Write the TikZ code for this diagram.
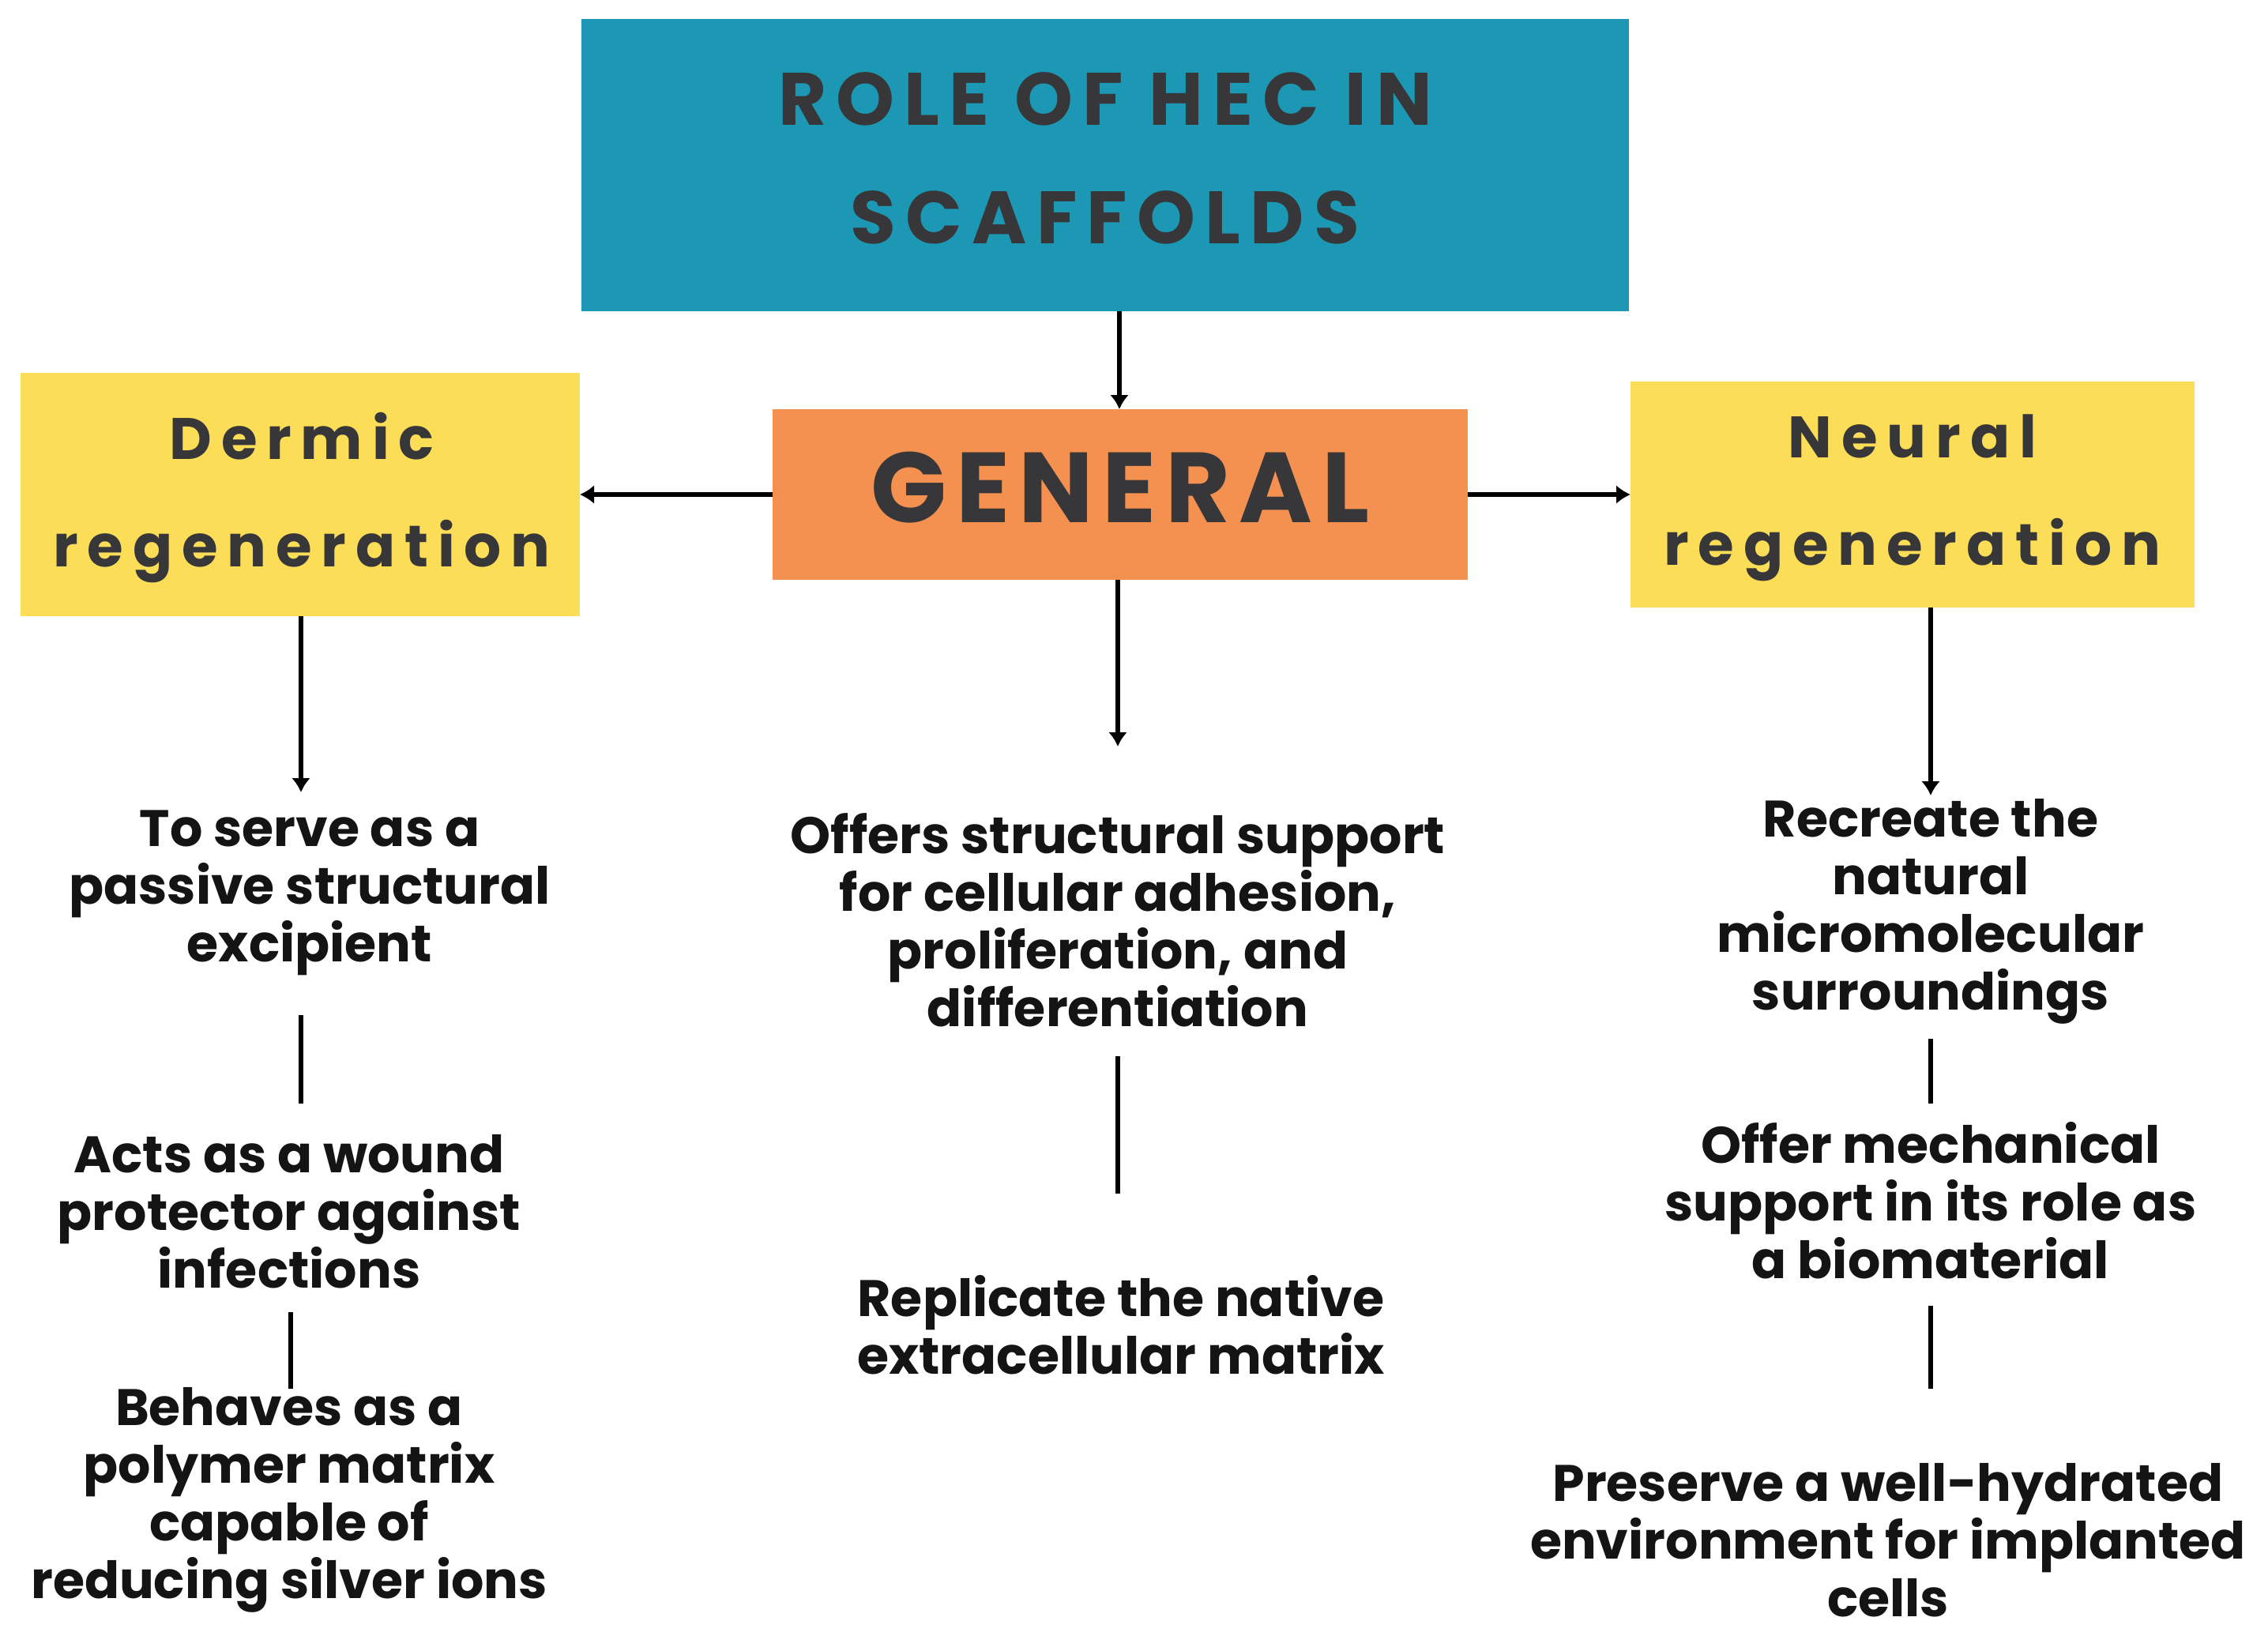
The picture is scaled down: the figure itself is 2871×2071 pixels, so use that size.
\documentclass[tikz,border=0pt]{standalone}
\usepackage{fontspec}
\setmainfont{Poppins}
\newfontfamily\titlefont{Poppins}[LetterSpace=13]
\newfontfamily\genfont{Poppins}[LetterSpace=9]
\newfontfamily\regfont{Poppins}[LetterSpace=16]
\usetikzlibrary{arrows.meta}
\definecolor{teal1}{RGB}{28,152,181}
\definecolor{orange1}{RGB}{245,145,80}
\definecolor{yellow1}{RGB}{251,221,88}
\definecolor{darktxt}{RGB}{55,55,58}
\definecolor{bodytxt}{RGB}{20,20,20}
\begin{document}
\begin{tikzpicture}[x=0.5pt,y=-0.5pt,
  box/.style={draw=none,inner sep=0,outer sep=0},
  btxt/.style={inner sep=0,align=center,text=bodytxt,font=\fontsize{32.5}{36.5}\selectfont\bfseries},
  arr/.style={line width=3pt,black,-{Latex[length=9pt,width=12pt]}},
  sep/.style={line width=3pt,black}
]
\useasboundingbox (0,0) rectangle (2871,2071);
% boxes
\node[box,fill=teal1,minimum width=663pt,minimum height=185pt] (title) at (1399,209) {};
\node[text=darktxt,font=\fontsize{47}{75}\selectfont\bfseries\titlefont,align=center,inner sep=0] (titletxt) at (1399,200) {ROLE OF HEC IN\\SCAFFOLDS};
\node[box,fill=orange1,minimum width=440pt,minimum height=108pt] (gen) at (1418,626) {};
\node[text=darktxt,font=\fontsize{63}{70}\selectfont\bfseries\genfont,inner sep=0] (gentxt) at (1418,617) {GENERAL};
\node[box,fill=yellow1,minimum width=354pt,minimum height=154pt] (derm) at (380,626) {};
\node[text=darktxt,font=\fontsize{37}{68}\selectfont\bfseries\regfont,align=center,inner sep=0] (dermtxt) at (382,630) {Dermic\\regeneration};
\node[box,fill=yellow1,minimum width=357pt,minimum height=143pt] (neur) at (2421,626) {};
\node[text=darktxt,font=\fontsize{37}{68}\selectfont\bfseries\regfont,align=center,inner sep=0] (neurtxt) at (2421,630) {Neural\\regeneration};
% arrows
\draw[arr] (title.south -| 1417,0) -- (gen.north -| 1417,0);
\draw[arr] (gen.west) -- (derm.east);
\draw[arr] (gen.east) -- (neur.west);
% text nodes
\node[btxt] (d1) at (392,1130) {To serve as a\\passive structural\\excipient};
\node[btxt] (d2) at (366,1534) {Acts as a wound\\protector against\\infections};
\node[btxt] (d3) at (366,1899) {Behaves as a\\polymer matrix\\capable of\\reducing silver ions};
\node[btxt] (g1) at (1415,1165) {Offers structural support\\for cellular adhesion,\\proliferation, and\\differentiation};
\node[btxt] (g2) at (1419,1677) {Replicate the native\\extracellular matrix};
\node[btxt] (n1) at (2444,1154) {Recreate the\\natural\\micromolecular\\surroundings};
\node[btxt] (n2) at (2444,1520) {Offer mechanical\\support in its role as\\a biomaterial};
\node[btxt] (n3) at (2390,1950) {Preserve a well-hydrated\\environment for implanted\\cells};
% arrows down
\coordinate (dA) at (381,1003);
\coordinate (gA) at (1415,945);
\coordinate (nA) at (2444,1007);
\draw[arr] (derm.south -| dA) -- (dA);
\draw[arr] (gen.south -| gA) -- (gA);
\draw[arr] (neur.south -| nA) -- (nA);
% separators
\coordinate (s1a) at (381,1285); \coordinate (s1b) at (381,1397);
\coordinate (s2a) at (368,1661); \coordinate (s2b) at (368,1758);
\coordinate (s3a) at (1415,1337); \coordinate (s3b) at (1415,1511);
\coordinate (s4a) at (2444,1315); \coordinate (s4b) at (2444,1397);
\coordinate (s5a) at (2444,1653); \coordinate (s5b) at (2444,1758);
\draw[sep] (s1a) -- (s1b);
\draw[sep] (s2a) -- (s2b);
\draw[sep] (s3a) -- (s3b);
\draw[sep] (s4a) -- (s4b);
\draw[sep] (s5a) -- (s5b);
\end{tikzpicture}
\end{document}
